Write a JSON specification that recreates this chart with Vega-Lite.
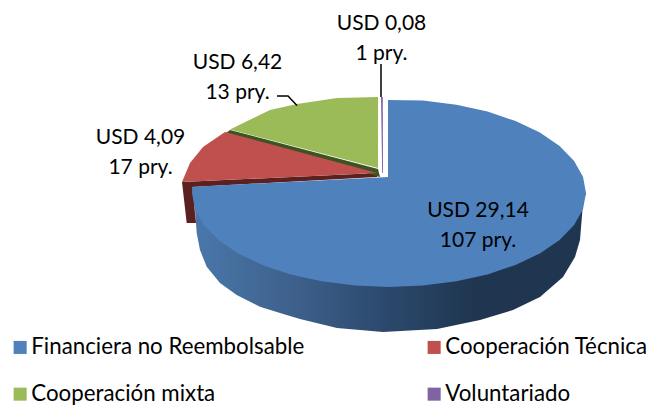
{
"$schema":"https://vega.github.io/schema/vega-lite/v6.json",
"width":650,"height":405,"padding":0,"autosize":{"type":"none"},
"background":"white",
"config":{"view":{"stroke":null},"font":"Lato"},
"datasets":{
"side":[
{"s":"a","o":1,"x":192,"y":193},{"s":"a","o":2,"x":195,"y":209},{"s":"a","o":3,"x":196.7,"y":233},{"s":"a","o":4,"x":200,"y":250},{"s":"a","o":5,"x":206.7,"y":266.7},{"s":"a","o":6,"x":220,"y":283},{"s":"a","o":7,"x":236.7,"y":295},{"s":"a","o":8,"x":260,"y":306.7},{"s":"a","o":9,"x":280,"y":313},{"s":"a","o":10,"x":300,"y":319},{"s":"a","o":11,"x":337,"y":328},{"s":"a","o":12,"x":383,"y":332},{"s":"a","o":13,"x":437,"y":329},{"s":"a","o":14,"x":480,"y":320},{"s":"a","o":15,"x":513,"y":310},{"s":"a","o":16,"x":540,"y":297},{"s":"a","o":17,"x":563,"y":277},{"s":"a","o":18,"x":575,"y":257},{"s":"a","o":19,"x":580,"y":240},{"s":"a","o":20,"x":583,"y":203},{"s":"a","o":21,"x":586,"y":193}
],
"walls":[
{"s":"r","o":1,"x":182,"y":182},{"s":"r","o":2,"x":377,"y":173},{"s":"r","o":3,"x":377,"y":177},{"s":"r","o":4,"x":192.5,"y":187},{"s":"r","o":5,"x":196,"y":223},{"s":"r","o":6,"x":186.7,"y":223},
{"s":"g","o":1,"x":230,"y":130},{"s":"g","o":2,"x":378,"y":169},{"s":"g","o":3,"x":380,"y":177},{"s":"g","o":4,"x":376,"y":176},{"s":"g","o":5,"x":226,"y":133}
],
"tops":[
{"c":"Financiera no Reembolsable","o":1,"x":388,"y":100},{"c":"Financiera no Reembolsable","o":2,"x":423,"y":100.4},{"c":"Financiera no Reembolsable","o":3,"x":456.4,"y":104.7},{"c":"Financiera no Reembolsable","o":4,"x":487.5,"y":111.6},{"c":"Financiera no Reembolsable","o":5,"x":515.6,"y":121},{"c":"Financiera no Reembolsable","o":6,"x":539.9,"y":132.6},{"c":"Financiera no Reembolsable","o":7,"x":559.6,"y":146},{"c":"Financiera no Reembolsable","o":8,"x":574.1,"y":160.9},{"c":"Financiera no Reembolsable","o":9,"x":583,"y":176.7},{"c":"Financiera no Reembolsable","o":10,"x":586,"y":193},{"c":"Financiera no Reembolsable","o":11,"x":583,"y":209.3},{"c":"Financiera no Reembolsable","o":12,"x":574.1,"y":225.1},{"c":"Financiera no Reembolsable","o":13,"x":559.6,"y":240},{"c":"Financiera no Reembolsable","o":14,"x":539.9,"y":253.4},{"c":"Financiera no Reembolsable","o":15,"x":515.6,"y":265},{"c":"Financiera no Reembolsable","o":16,"x":487.5,"y":274.4},{"c":"Financiera no Reembolsable","o":17,"x":456.4,"y":281.3},{"c":"Financiera no Reembolsable","o":18,"x":423,"y":285.6},{"c":"Financiera no Reembolsable","o":19,"x":389,"y":287},{"c":"Financiera no Reembolsable","o":20,"x":355,"y":285.6},{"c":"Financiera no Reembolsable","o":21,"x":321.6,"y":281.3},{"c":"Financiera no Reembolsable","o":22,"x":290.5,"y":274.4},{"c":"Financiera no Reembolsable","o":23,"x":262.4,"y":265},{"c":"Financiera no Reembolsable","o":24,"x":238.1,"y":253.4},{"c":"Financiera no Reembolsable","o":25,"x":218.4,"y":240},{"c":"Financiera no Reembolsable","o":26,"x":203.9,"y":225.1},{"c":"Financiera no Reembolsable","o":27,"x":195,"y":209.3},{"c":"Financiera no Reembolsable","o":28,"x":192,"y":193},{"c":"Financiera no Reembolsable","o":29,"x":192.7,"y":186.7},{"c":"Financiera no Reembolsable","o":30,"x":388,"y":177},
{"c":"Cooperación Técnica","o":1,"x":377,"y":173},{"c":"Cooperación Técnica","o":2,"x":225,"y":132},{"c":"Cooperación Técnica","o":3,"x":203,"y":147},{"c":"Cooperación Técnica","o":4,"x":190,"y":163},{"c":"Cooperación Técnica","o":5,"x":182,"y":182},
{"c":"Cooperación mixta","o":1,"x":378,"y":168},{"c":"Cooperación mixta","o":2,"x":230,"y":129.5},{"c":"Cooperación mixta","o":3,"x":270,"y":110},{"c":"Cooperación mixta","o":4,"x":297,"y":104},{"c":"Cooperación mixta","o":5,"x":337,"y":98},{"c":"Cooperación mixta","o":6,"x":378,"y":97},
{"c":"Voluntariado","o":1,"x":381,"y":97},{"c":"Voluntariado","o":2,"x":382.8,"y":97},{"c":"Voluntariado","o":3,"x":383,"y":173},{"c":"Voluntariado","o":4,"x":382.2,"y":173}
],
"leaders":[
{"s":"v","o":1,"x":381,"y":64},{"s":"v","o":2,"x":381,"y":97},
{"s":"m","o":1,"x":277,"y":96},{"s":"m","o":2,"x":288,"y":96},{"s":"m","o":3,"x":297,"y":105.5}
],
"labels":[
{"t":"USD 29,14\n107 pry.","x":478,"y":211},
{"t":"USD 0,08\n1 pry.","x":381.5,"y":24},
{"t":"USD 6,42\n13 pry.","x":237.5,"y":63},
{"t":"USD 4,09\n17 pry.","x":140.5,"y":138}
]
},
"encoding":{
"x":{"field":"x","type":"quantitative","scale":{"domain":[0,650],"nice":false,"zero":false},"axis":null},
"y":{"field":"y","type":"quantitative","scale":{"domain":[405,0],"nice":false,"zero":false},"axis":null}
},
"layer":[
{"data":{"name":"side"},
"mark":{"type":"line","filled":true,"strokeWidth":0,"fill":{"gradient":"linear","x1":0,"x2":1,"y1":0,"y2":0,"stops":[{"offset":0,"color":"#4a78ab"},{"offset":0.27,"color":"#3d5f8a"},{"offset":0.48,"color":"#2c4a6e"},{"offset":0.72,"color":"#1f3550"},{"offset":1,"color":"#1f3550"}]}},
"encoding":{"order":{"field":"o"}}},
{"data":{"name":"walls"},
"mark":{"type":"line","filled":true,"strokeWidth":0},
"encoding":{"order":{"field":"o"},
"color":{"field":"s","type":"nominal","scale":{"domain":["r","g"],"range":["#5b2120","#3e5222"]},"legend":null}}},
{"data":{"name":"tops"},
"mark":{"type":"line","filled":true,"strokeWidth":0},
"encoding":{"order":{"field":"o"},
"fill":{"field":"c","type":"nominal","sort":null,"scale":{"domain":["Financiera no Reembolsable","Cooperación mixta","Cooperación Técnica","Voluntariado"],"range":["#4f81bd","#9bbb59","#c0504d","#8064a2"]},
"legend":{"title":null,"orient":"none","legendX":9,"legendY":336,"columns":2,"columnPadding":118,"rowPadding":24,"symbolType":"square","symbolSize":170,"symbolStrokeWidth":0,"labelFont":"Lato","labelFontSize":22.3,"labelColor":"#000000","labelOffset":0,"labelLimit":400,"padding":0}}}},
{"data":{"name":"leaders"},
"mark":{"type":"line","color":"#000000","strokeWidth":1.5},
"encoding":{"order":{"field":"o"},"detail":{"field":"s"}}},
{"data":{"name":"labels"},
"mark":{"type":"text","font":"Lato","fontSize":21,"color":"#000000","lineBreak":"\n","lineHeight":30,"align":"center","baseline":"middle"},
"encoding":{"text":{"field":"t"}}}
]
}
